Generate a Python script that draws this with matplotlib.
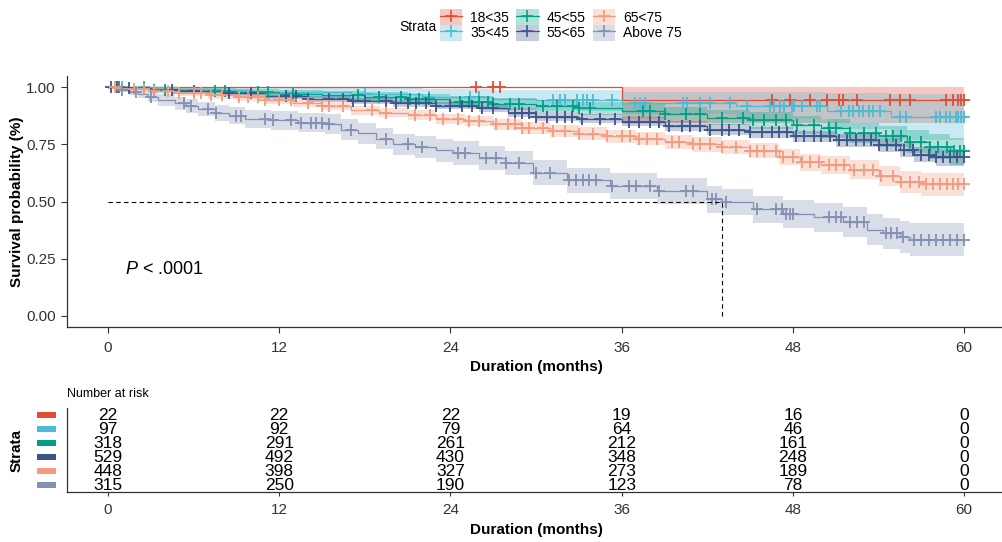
import matplotlib
matplotlib.use('Agg')
import matplotlib.pyplot as plt
from matplotlib.patches import Patch, Rectangle
from matplotlib.lines import Line2D
import matplotlib.transforms as mtransforms
import numpy as np

plt.rcParams['font.family'] = ['Liberation Sans', 'DejaVu Sans']
plt.rcParams['mathtext.fontset'] = 'custom'
plt.rcParams['mathtext.rm'] = 'Liberation Sans'
plt.rcParams['mathtext.it'] = 'Liberation Sans:italic'

#### strata and colours ####
strata = ['18<35', '35<45', '45<55', '55<65', '65<75', 'Above 75']
colors = ['#E64B35', '#4DBBD5', '#00A087', '#3C5488', '#F39B7F', '#8491B4']

#### step curves: event times and survival after each drop ####
t_1835 = [36.0]
s_1835 = [0.947]
ci_1835 = [0.105]
c_1835 = [25.8, 27.0, 27.5, 46.5, 47.8, 49.2, 50.4, 51.2, 51.5, 52.5, 54.8, 55.5,
          56.2, 58.7, 59.2, 59.6, 59.8, 60.0]

t_3545 = [5.0, 10.0, 17.0, 22.0, 27.0, 30.0, 36.0, 44.0, 50.4, 54.9]
s_3545 = [0.99, 0.98, 0.97, 0.96, 0.95, 0.943, 0.932, 0.92, 0.897, 0.87]
ci_3545 = [0.015, 0.025, 0.03, 0.035, 0.04, 0.045, 0.05, 0.06, 0.08, 0.1]
c_3545 = [1.0, 2.5, 18.0, 22.5, 25.4, 26.0, 31.2, 31.7, 32.0, 32.9, 33.3, 33.6, 34.0,
          35.3, 36.9, 37.3, 37.6, 40.3, 40.6, 41.5, 42.2, 43.6, 44.8, 46.4, 46.7,
          47.1, 47.4, 47.9, 48.1, 48.6, 49.7, 49.9, 51.4, 51.9, 52.2, 52.6, 52.9,
          53.3, 53.6, 54.1, 55.5, 55.9, 58.0, 58.3, 58.7, 59.0, 59.4, 59.6, 59.8, 60.0]

t_4555 = [1, 3, 6, 9, 12, 15, 18, 21, 24, 27, 30, 33, 36, 39, 42, 45, 48, 50, 52,
          54, 56, 57.5, 59]
s_4555 = [0.997, 0.99, 0.985, 0.978, 0.972, 0.965, 0.958, 0.948, 0.938, 0.928, 0.918,
          0.908, 0.898, 0.882, 0.868, 0.855, 0.835, 0.82, 0.80, 0.785, 0.762, 0.74, 0.72]
ci_4555 = [0.004, 0.01, 0.012, 0.015, 0.017, 0.018, 0.02, 0.022, 0.024, 0.026, 0.027,
           0.028, 0.03, 0.032, 0.034, 0.036, 0.038, 0.04, 0.043, 0.046, 0.05, 0.055, 0.06]
c_4555 = [0.8, 2.5, 3.2, 4.0, 7.5, 8.2, 10.5, 11.2, 13.0, 17.5, 19.0, 20.5, 21.2,
          21.8, 22.5, 24.7, 25.3, 26.0, 26.6, 27.0, 28.2, 28.8, 30.5, 31.5, 32.6,
          33.0, 33.8, 37.5, 38.0, 39.0, 40.5, 41.5, 43.0, 44.5, 45.2, 46.0, 46.8,
          47.5, 48.3, 49.5, 50.5, 51.0, 52.0, 53.0, 53.8, 54.5, 55.0, 55.6, 56.2,
          57.0, 57.6, 58.2, 58.8, 59.3, 59.7, 60.0]

t_5565 = [1, 3, 5, 8, 11, 14, 17, 20, 23, 26, 28, 30, 33, 36, 39, 42, 45, 48, 51,
          54, 55.5, 56.5, 58]
s_5565 = [0.996, 0.99, 0.983, 0.975, 0.962, 0.95, 0.94, 0.93, 0.92, 0.908, 0.89,
          0.872, 0.862, 0.85, 0.832, 0.815, 0.803, 0.785, 0.768, 0.748, 0.725, 0.705, 0.693]
ci_5565 = [0.004, 0.006, 0.008, 0.01, 0.012, 0.013, 0.014, 0.015, 0.016, 0.017, 0.018,
           0.019, 0.02, 0.021, 0.022, 0.023, 0.024, 0.026, 0.028, 0.03, 0.032, 0.034, 0.036]
c_5565 = [0.2, 0.6, 1.5, 4.5, 6.0, 8.5, 10.0, 12.5, 13.2, 14.0, 15.5, 16.5, 17.2,
          18.0, 19.5, 20.2, 21.0, 21.6, 22.3, 23.0, 24.0, 24.8, 25.5, 26.2, 27.0,
          28.5, 29.0, 29.5, 30.0, 30.8, 31.5, 32.0, 32.5, 33.2, 34.5, 35.5, 36.5,
          37.2, 38.0, 38.6, 39.3, 40.2, 40.8, 41.5, 42.2, 43.0, 43.5, 44.2, 45.0,
          45.8, 46.5, 47.0, 47.6, 48.2, 48.8, 49.5, 50.0, 50.6, 51.2, 51.8, 52.4,
          53.0, 53.5, 54.0, 54.6, 55.2, 55.8, 56.4, 57.0, 57.5, 58.0, 58.5, 59.0,
          59.5, 60.0]

t_6575 = [1, 3, 5, 7, 9, 11, 13, 15, 17, 19, 21, 23, 25, 27, 29, 31, 33, 35, 37, 39,
          41, 43, 45, 47, 48.5, 50, 52, 54, 55.5, 57]
s_6575 = [0.995, 0.985, 0.975, 0.965, 0.956, 0.945, 0.932, 0.918, 0.9, 0.89, 0.878,
          0.862, 0.852, 0.838, 0.822, 0.808, 0.798, 0.785, 0.775, 0.762, 0.75, 0.738,
          0.722, 0.695, 0.672, 0.66, 0.64, 0.61, 0.585, 0.575]
ci_6575 = [0.006, 0.01, 0.012, 0.014, 0.015, 0.016, 0.017, 0.018, 0.019, 0.02, 0.021,
           0.022, 0.023, 0.024, 0.025, 0.026, 0.027, 0.028, 0.029, 0.03, 0.031, 0.032,
           0.033, 0.035, 0.037, 0.039, 0.041, 0.044, 0.047, 0.05]
c_6575 = [0.5, 1.0, 1.8, 2.5, 3.2, 4.2, 5.0, 6.0, 6.5, 7.2, 8.0, 9.2, 9.8, 10.5, 11.0,
          12.0, 12.8, 14.0, 15.0, 15.5, 16.5, 18.5, 19.5, 21.5, 22.6, 23.5, 24.5,
          25.3, 26.0, 27.2, 28.0, 28.5, 29.0, 29.5, 30.5, 31.2, 32.0, 33.0, 34.0,
          35.0, 36.0, 36.6, 37.2, 37.8, 38.5, 39.5, 40.0, 41.0, 41.5, 42.2, 43.0,
          44.0, 45.0, 45.5, 46.0, 46.8, 47.3, 48.0, 48.6, 49.2, 49.8, 50.5, 51.0,
          51.6, 52.3, 53.0, 53.6, 54.2, 55.0, 55.6, 56.2, 56.8, 57.3, 57.8, 58.3,
          58.8, 59.2, 59.6, 60.0]

t_75 = [0.5, 1.5, 2.1, 2.8, 3.5, 4.7, 5.5, 6.3, 7.5, 8.5, 9.6, 11.4, 13.3, 15.2, 16.3,
        17.5, 18.8, 20, 21.5, 23, 24.2, 26, 27.8, 29.8, 32.2, 35.2, 38.5, 42, 43,
        45.2, 47.3, 49.5, 51.5, 53.2, 54.3, 55.5, 56.2]
s_75 = [0.99, 0.98, 0.97, 0.956, 0.945, 0.93, 0.918, 0.905, 0.886, 0.875, 0.861, 0.855,
        0.846, 0.839, 0.815, 0.8, 0.775, 0.75, 0.74, 0.725, 0.712, 0.69, 0.667, 0.627,
        0.593, 0.567, 0.546, 0.509, 0.498, 0.465, 0.445, 0.43, 0.41, 0.377, 0.36,
        0.345, 0.333]
ci_75 = [0.01, 0.015, 0.018, 0.022, 0.025, 0.028, 0.03, 0.032, 0.035, 0.037, 0.039,
         0.04, 0.042, 0.043, 0.045, 0.046, 0.047, 0.048, 0.049, 0.05, 0.051, 0.052,
         0.053, 0.054, 0.055, 0.056, 0.057, 0.058, 0.058, 0.06, 0.061, 0.063, 0.065,
         0.067, 0.068, 0.07, 0.072]
c_75 = [1.0, 2.0, 3.0, 5.3, 5.8, 7.0, 7.6, 9.0, 9.3, 11.0, 11.6, 12.8, 13.5, 14.2,
        14.6, 15.0, 15.5, 17.0, 19.5, 21.0, 22.0, 24.5, 25.0, 26.5, 27.2, 27.9, 28.8,
        30.0, 31.0, 32.3, 32.8, 33.3, 33.7, 34.2, 35.3, 36.5, 37.0, 38.0, 38.6, 40.5,
        41.0, 42.3, 42.6, 43.3, 45.5, 46.8, 47.2, 47.5, 47.8, 48.0, 50.5, 51.0, 51.4,
        52.0, 52.5, 53.0, 54.5, 54.9, 55.3, 55.7, 56.5, 57.0, 57.5, 58.0, 58.5, 59.0,
        59.5, 60.0]

#### number at risk table ####
risk_times = [0, 12, 24, 36, 48, 60]
risk_1835 = [22, 22, 22, 19, 16, 0]
risk_3545 = [97, 92, 79, 64, 46, 0]
risk_4555 = [318, 291, 261, 212, 161, 0]
risk_5565 = [529, 492, 430, 348, 248, 0]
risk_6575 = [448, 398, 327, 273, 189, 0]
risk_75 = [315, 250, 190, 123, 78, 0]

median_75 = 43.0
pval_text = '$P$ < .0001'

groups = [
    (t_1835, s_1835, ci_1835, c_1835, risk_1835),
    (t_3545, s_3545, ci_3545, c_3545, risk_3545),
    (t_4555, s_4555, ci_4555, c_4555, risk_4555),
    (t_5565, s_5565, ci_5565, c_5565, risk_5565),
    (t_6575, s_6575, ci_6575, c_6575, risk_6575),
    (t_75, s_75, ci_75, c_75, risk_75),
]

W, H = 1002, 542
fig = plt.figure(figsize=(W / 100, H / 100), dpi=100)
ax = fig.add_axes([67 / W, 1 - 327 / H, 935 / W, 251 / H])
ax2 = fig.add_axes([67 / W, 1 - 492 / H, 935 / W, 84 / H])
XLIM = (-2.87, 62.65)

txt_col = '#333333'

# ribbons first, then curves, then censor marks
curves = []
for (tt, ss, cc, cens, _), col in zip(groups, colors):
    t_end = max(cens[-1], tt[-1])
    x = np.array([0.0] + list(tt) + [t_end])
    y = np.array([1.0] + list(ss) + [ss[-1]])
    h = np.array([0.0] + list(cc) + [cc[-1]])
    lo = y - h
    hi = np.minimum(y + h, 1.0)
    curves.append((x, y, lo, hi))

for (x, y, lo, hi), col in zip(curves, colors):
    ax.fill_between(x, lo, hi, step='post', color=col, alpha=0.3, lw=0)

for (x, y, lo, hi), col in zip(curves, colors):
    ax.step(x, y, where='post', color=col, lw=0.9)

for (x, y, lo, hi), g, col in zip(curves, groups, colors):
    cens = np.array(g[3])
    idx = np.searchsorted(x, cens, side='right') - 1
    ax.plot(cens, y[idx], ls='none', marker='+', ms=9, mew=1.3, color=col)

# median line
ax.plot([0, median_75], [0.5, 0.5], ls=(0, (4, 3)), color='black', lw=0.8)
ax.plot([median_75, median_75], [0, 0.5], ls=(0, (4, 3)), color='black', lw=0.8)

ax.text(1.2, 0.2, pval_text, fontsize=13, va='center', ha='left')

ax.set_xlim(*XLIM)
ax.set_ylim(-0.05, 1.05)
ax.set_xticks([0, 12, 24, 36, 48, 60])
ax.set_yticks([0, 0.25, 0.5, 0.75, 1.0])
ax.set_yticklabels(['0.00', '0.25', '0.50', '0.75', '1.00'])
ax.tick_params(labelsize=11, colors=txt_col, length=4, width=0.8, pad=4)
ax.tick_params(axis='x', pad=6)
for sp in ['top', 'right']:
    ax.spines[sp].set_visible(False)
for sp in ['left', 'bottom']:
    ax.spines[sp].set_color('#333333')
    ax.spines[sp].set_linewidth(0.9)
ax.set_xlabel('Duration (months)', fontsize=11, fontweight='bold')
ax.xaxis.set_label_coords((536 - 67) / 935, -0.13)
ax.set_ylabel('Survival probability (%)', fontsize=11, fontweight='bold')
ax.yaxis.set_label_coords(-0.046, 0.5)

# legend
handles = []
for col in colors:
    handles.append((Patch(facecolor=col, alpha=0.3, edgecolor='none'),
                    Line2D([], [], color=col, lw=0.9, marker='+', ms=9, mew=1.2)))
fig.legend(handles, strata, ncol=3, loc='center', bbox_to_anchor=(561 / W, 1 - 25 / H),
           frameon=False, fontsize=10, handlelength=1.6, handleheight=1.35,
           handletextpad=0.6, columnspacing=0.5, labelspacing=0.0, borderpad=0)
fig.text(437 / W, 1 - 27 / H, 'Strata', fontsize=10, ha='right', va='center')

# risk table
nrow = len(strata)
trans = mtransforms.blended_transform_factory(ax2.transAxes, ax2.transData)
for i, (g, col) in enumerate(zip(groups, colors)):
    yrow = nrow - i
    for tx, n in zip(risk_times, g[4]):
        ax2.text(tx, yrow, str(n), ha='center', va='center', fontsize=12.5, color='black')
    ax2.add_patch(Rectangle((-30 / 935, yrow - 0.2), 19 / 935, 0.4, transform=trans,
                            facecolor=col, edgecolor='none', clip_on=False))
ax2.set_xlim(*XLIM)
ax2.set_ylim(0.5, nrow + 0.5)
ax2.set_xticks(risk_times)
ax2.set_yticks([])
ax2.tick_params(labelsize=11, colors=txt_col, length=3, width=0.8, pad=5)
for sp in ['top', 'right']:
    ax2.spines[sp].set_visible(False)
for sp in ['left', 'bottom']:
    ax2.spines[sp].set_color('#333333')
    ax2.spines[sp].set_linewidth(0.9)
ax2.set_xlabel('Duration (months)', fontsize=11, fontweight='bold')
ax2.xaxis.set_label_coords((536 - 67) / 935, -0.37)
ax2.set_ylabel('Strata', fontsize=11, fontweight='bold')
ax2.yaxis.set_label_coords(-0.046, 0.5)
ax2.text(0.0, 1.17, 'Number at risk', transform=ax2.transAxes, fontsize=9,
         ha='left', va='center', color='black')

plt.savefig('out.png', dpi=100)
